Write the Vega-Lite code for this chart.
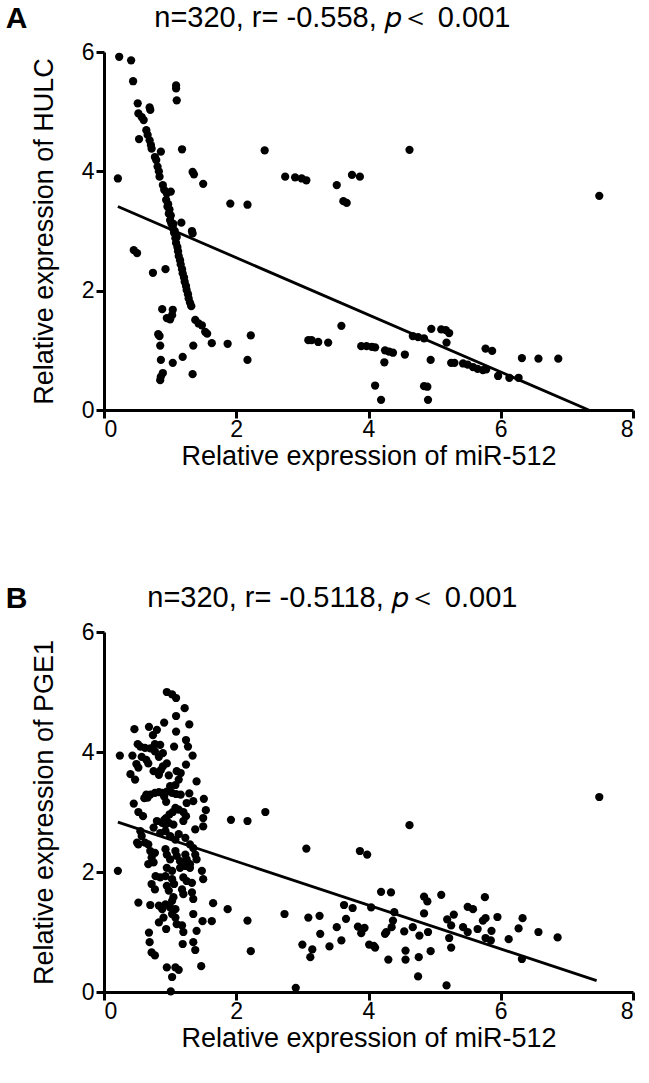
{
"$schema": "https://vega.github.io/schema/vega-lite/v6.json",
"background": "white",
"padding": {"left": 5, "top": 4, "right": 4, "bottom": 4},
"config": {
  "font": "Liberation Sans",
  "view": {"stroke": null},
  "axis": {"domainColor": "black", "domainWidth": 3, "tickColor": "black", "tickWidth": 3, "tickSize": 8, "labelFontSize": 23, "labelColor": "black", "titleFontSize": 27, "titleFontWeight": "normal", "titleColor": "black", "grid": false, "labelPadding": 2, "titlePadding": 6},
  "axisX": {"labelPadding": 0, "titlePadding": 2},
  "axisY": {"titlePadding": 23},
  "title": {"fontSize": 29, "fontWeight": "normal", "color": "black"},
  "concat": {"spacing": 115}
},
"datasets": {
  "hulc": [
    {"mir512":0.23,"expr":5.92},{"mir512":0.41,"expr":5.86},{"mir512":0.44,"expr":5.51},{"mir512":0.51,"expr":5.14},{"mir512":0.52,"expr":4.97},{"mir512":0.57,"expr":4.91},{"mir512":0.60,"expr":4.86},{"mir512":0.69,"expr":5.07},{"mir512":0.70,"expr":5.03},{"mir512":0.53,"expr":4.54},{"mir512":0.64,"expr":4.69},{"mir512":0.66,"expr":4.61},{"mir512":0.69,"expr":4.52},{"mir512":0.71,"expr":4.44},{"mir512":0.72,"expr":4.38},{"mir512":0.77,"expr":4.24},{"mir512":0.79,"expr":4.19},{"mir512":0.81,"expr":4.08},{"mir512":0.83,"expr":4.00},{"mir512":0.84,"expr":3.91},{"mir512":0.86,"expr":4.33},{"mir512":0.89,"expr":3.77},{"mir512":0.91,"expr":3.69},{"mir512":0.95,"expr":3.63},{"mir512":1.01,"expr":3.66},{"mir512":0.94,"expr":3.52},{"mir512":0.96,"expr":3.41},{"mir512":0.98,"expr":3.29},{"mir512":1.00,"expr":3.18},{"mir512":1.09,"expr":5.44},{"mir512":1.09,"expr":5.39},{"mir512":1.10,"expr":5.19},{"mir512":1.18,"expr":4.37},{"mir512":0.21,"expr":3.88},{"mir512":1.34,"expr":3.99},{"mir512":1.36,"expr":3.95},{"mir512":1.50,"expr":3.79},{"mir512":1.91,"expr":3.46},{"mir512":2.17,"expr":3.44},{"mir512":2.43,"expr":4.35},{"mir512":2.74,"expr":3.91},{"mir512":2.89,"expr":3.90},{"mir512":2.99,"expr":3.88},{"mir512":3.06,"expr":3.85},{"mir512":3.52,"expr":3.77},{"mir512":3.62,"expr":3.50},{"mir512":3.67,"expr":3.47},{"mir512":3.75,"expr":3.94},{"mir512":3.87,"expr":3.91},{"mir512":4.62,"expr":4.36},{"mir512":7.49,"expr":3.59},
    {"mir512":0.97,"expr":3.45},{"mir512":0.99,"expr":3.36},{"mir512":1.01,"expr":3.26},{"mir512":1.02,"expr":3.12},{"mir512":1.04,"expr":3.05},{"mir512":1.06,"expr":2.97},{"mir512":1.08,"expr":2.88},{"mir512":1.09,"expr":2.80},{"mir512":1.11,"expr":2.73},{"mir512":1.12,"expr":2.66},{"mir512":1.13,"expr":2.58},{"mir512":1.15,"expr":2.51},{"mir512":1.16,"expr":2.44},{"mir512":1.18,"expr":2.36},{"mir512":1.19,"expr":2.29},{"mir512":1.21,"expr":2.22},{"mir512":1.22,"expr":2.15},{"mir512":1.24,"expr":2.08},{"mir512":1.25,"expr":2.01},{"mir512":1.27,"expr":1.94},{"mir512":1.28,"expr":1.87},{"mir512":1.30,"expr":1.80},{"mir512":1.32,"expr":1.74},{"mir512":1.05,"expr":3.12},{"mir512":1.07,"expr":3.00},{"mir512":1.10,"expr":2.90},
    {"mir512":1.17,"expr":3.14},{"mir512":1.33,"expr":3.00},{"mir512":1.34,"expr":2.96},{"mir512":0.45,"expr":2.68},{"mir512":0.50,"expr":2.63},{"mir512":0.74,"expr":2.30},{"mir512":0.93,"expr":2.36},{"mir512":0.88,"expr":1.69},{"mir512":1.04,"expr":1.68},{"mir512":1.03,"expr":1.59},{"mir512":0.95,"expr":1.54},{"mir512":1.00,"expr":1.52},{"mir512":1.38,"expr":1.51},{"mir512":1.43,"expr":1.45},{"mir512":1.48,"expr":1.42},{"mir512":1.53,"expr":1.31},{"mir512":1.56,"expr":1.28},{"mir512":0.82,"expr":1.27},{"mir512":0.84,"expr":1.24},{"mir512":1.63,"expr":1.12},{"mir512":1.87,"expr":1.11},{"mir512":2.22,"expr":1.25},{"mir512":1.35,"expr":1.08},{"mir512":0.85,"expr":1.08},{"mir512":0.86,"expr":0.84},{"mir512":1.04,"expr":0.79},{"mir512":1.19,"expr":0.89},{"mir512":1.34,"expr":0.60},{"mir512":0.89,"expr":0.62},{"mir512":0.86,"expr":0.56},{"mir512":0.85,"expr":0.50},{"mir512":2.17,"expr":0.84},{"mir512":3.09,"expr":1.17},{"mir512":3.14,"expr":1.17},{"mir512":3.24,"expr":1.14},{"mir512":3.39,"expr":1.13},{"mir512":3.59,"expr":1.41},{"mir512":3.89,"expr":1.07},{"mir512":3.97,"expr":1.07},{"mir512":4.05,"expr":1.06},{"mir512":4.10,"expr":1.05},{"mir512":4.25,"expr":1.00},{"mir512":4.31,"expr":0.98},{"mir512":4.37,"expr":0.96},{"mir512":4.24,"expr":0.80},{"mir512":4.10,"expr":0.41},{"mir512":4.19,"expr":0.17},{"mir512":4.55,"expr":0.93},{"mir512":4.67,"expr":1.24},{"mir512":4.75,"expr":1.22},{"mir512":4.84,"expr":1.20},{"mir512":4.95,"expr":1.36},{"mir512":5.10,"expr":1.35},{"mir512":5.17,"expr":1.34},{"mir512":5.22,"expr":1.29},{"mir512":5.18,"expr":1.13},{"mir512":4.94,"expr":0.84},{"mir512":4.84,"expr":0.40},{"mir512":4.89,"expr":0.39},{"mir512":4.90,"expr":0.17},{"mir512":5.25,"expr":0.79},{"mir512":5.30,"expr":0.79},{"mir512":5.43,"expr":0.78},{"mir512":5.50,"expr":0.76},{"mir512":5.58,"expr":0.72},{"mir512":5.65,"expr":0.69},{"mir512":5.73,"expr":0.67},{"mir512":5.78,"expr":0.68},{"mir512":5.77,"expr":1.03},{"mir512":5.87,"expr":0.99},{"mir512":5.96,"expr":0.57},{"mir512":6.13,"expr":0.54},{"mir512":6.27,"expr":0.54},{"mir512":6.32,"expr":0.87},{"mir512":6.57,"expr":0.86},{"mir512":6.87,"expr":0.86}
  ],
  "pge1": [
    {"mir512":0.95,"expr":5.00},{"mir512":1.03,"expr":4.96},{"mir512":1.09,"expr":4.90},{"mir512":1.22,"expr":4.73},{"mir512":1.09,"expr":4.60},{"mir512":0.91,"expr":4.49},{"mir512":1.29,"expr":4.46},{"mir512":0.46,"expr":4.38},{"mir512":0.68,"expr":4.42},{"mir512":0.74,"expr":4.28},{"mir512":0.80,"expr":4.37},{"mir512":1.09,"expr":4.34},{"mir512":0.51,"expr":4.13},{"mir512":0.55,"expr":4.09},{"mir512":0.62,"expr":4.07},{"mir512":0.70,"expr":4.06},{"mir512":0.77,"expr":4.13},{"mir512":0.85,"expr":4.12},{"mir512":1.06,"expr":4.09},{"mir512":1.24,"expr":4.20},{"mir512":1.27,"expr":4.09},{"mir512":0.24,"expr":3.94},{"mir512":0.43,"expr":3.94},{"mir512":0.57,"expr":3.92},{"mir512":0.64,"expr":3.87},{"mir512":0.67,"expr":3.81},{"mir512":0.77,"expr":4.01},{"mir512":0.83,"expr":3.92},{"mir512":0.89,"expr":3.98},{"mir512":1.34,"expr":3.94},{"mir512":0.49,"expr":3.80},{"mir512":0.52,"expr":3.74},{"mir512":1.24,"expr":3.79},{"mir512":0.95,"expr":3.81},{"mir512":0.89,"expr":3.76},{"mir512":0.86,"expr":3.70},{"mir512":0.75,"expr":3.68},{"mir512":0.40,"expr":3.63},{"mir512":0.47,"expr":3.54},{"mir512":0.83,"expr":3.62},{"mir512":0.98,"expr":3.61},{"mir512":1.10,"expr":3.68},{"mir512":1.16,"expr":3.65},{"mir512":1.13,"expr":3.54},{"mir512":1.08,"expr":3.45},{"mir512":1.00,"expr":3.43},{"mir512":1.40,"expr":3.51},{"mir512":0.95,"expr":3.34},{"mir512":1.03,"expr":3.32},{"mir512":1.09,"expr":3.30},{"mir512":1.16,"expr":3.29},{"mir512":0.64,"expr":3.29},{"mir512":0.70,"expr":3.29},{"mir512":0.77,"expr":3.32},{"mir512":0.83,"expr":3.33},{"mir512":0.88,"expr":3.32},{"mir512":0.91,"expr":3.26},{"mir512":0.66,"expr":3.24},{"mir512":0.61,"expr":3.23},{"mir512":1.29,"expr":3.31},{"mir512":1.35,"expr":3.18},{"mir512":1.25,"expr":3.15},{"mir512":1.51,"expr":3.22},{"mir512":0.45,"expr":3.14},{"mir512":0.94,"expr":3.17},{"mir512":1.08,"expr":3.07},{"mir512":1.13,"expr":3.04},{"mir512":1.04,"expr":3.00},{"mir512":0.99,"expr":2.96},{"mir512":0.94,"expr":2.90},{"mir512":0.52,"expr":3.00},{"mir512":0.59,"expr":2.93},{"mir512":1.20,"expr":3.00},{"mir512":1.24,"expr":2.93},{"mir512":1.54,"expr":3.03},{"mir512":1.50,"expr":2.90},{"mir512":0.80,"expr":2.85},{"mir512":0.88,"expr":2.82},{"mir512":0.93,"expr":2.79},{"mir512":1.92,"expr":2.87},{"mir512":2.17,"expr":2.85},{"mir512":2.44,"expr":3.00},
    {"mir512":0.91,"expr":2.87},{"mir512":0.98,"expr":2.82},{"mir512":1.05,"expr":2.79},{"mir512":1.20,"expr":2.85},{"mir512":1.50,"expr":2.76},{"mir512":1.38,"expr":2.71},{"mir512":0.55,"expr":2.68},{"mir512":0.57,"expr":2.60},{"mir512":0.75,"expr":2.74},{"mir512":0.85,"expr":2.65},{"mir512":0.93,"expr":2.68},{"mir512":1.00,"expr":2.60},{"mir512":1.08,"expr":2.54},{"mir512":1.13,"expr":2.63},{"mir512":1.23,"expr":2.57},{"mir512":1.30,"expr":2.46},{"mir512":1.35,"expr":2.40},{"mir512":0.50,"expr":2.49},{"mir512":0.52,"expr":2.46},{"mir512":0.62,"expr":2.49},{"mir512":0.67,"expr":2.46},{"mir512":0.70,"expr":2.35},{"mir512":0.77,"expr":2.32},{"mir512":0.72,"expr":2.24},{"mir512":0.93,"expr":2.38},{"mir512":0.95,"expr":2.29},{"mir512":1.00,"expr":2.21},{"mir512":1.08,"expr":2.35},{"mir512":1.10,"expr":2.27},{"mir512":1.15,"expr":2.18},{"mir512":1.23,"expr":2.29},{"mir512":1.25,"expr":2.21},{"mir512":1.30,"expr":2.13},{"mir512":1.38,"expr":2.29},{"mir512":1.40,"expr":2.21},{"mir512":0.67,"expr":2.13},{"mir512":0.75,"expr":2.16},{"mir512":0.95,"expr":2.07},{"mir512":1.03,"expr":2.02},{"mir512":1.15,"expr":2.07},{"mir512":1.23,"expr":2.10},{"mir512":1.30,"expr":2.07},{"mir512":0.21,"expr":2.02},{"mir512":1.48,"expr":2.02},{"mir512":0.78,"expr":1.93},{"mir512":0.85,"expr":1.91},{"mir512":0.93,"expr":1.93},{"mir512":1.03,"expr":1.88},{"mir512":1.06,"expr":1.80},{"mir512":1.20,"expr":1.91},{"mir512":1.25,"expr":1.85},{"mir512":1.33,"expr":1.82},{"mir512":1.50,"expr":1.88},{"mir512":0.72,"expr":1.80},{"mir512":0.77,"expr":1.71},{"mir512":0.95,"expr":1.77},{"mir512":0.98,"expr":1.69},{"mir512":1.18,"expr":1.71},{"mir512":1.20,"expr":1.63},{"mir512":1.33,"expr":1.66},{"mir512":1.35,"expr":1.55},{"mir512":1.05,"expr":1.58},{"mir512":1.03,"expr":1.52},{"mir512":0.52,"expr":1.49},{"mir512":0.70,"expr":1.45},{"mir512":0.83,"expr":1.44},{"mir512":0.88,"expr":1.38},{"mir512":0.93,"expr":1.46},{"mir512":1.00,"expr":1.41},{"mir512":1.08,"expr":1.38},{"mir512":1.03,"expr":1.30},{"mir512":1.65,"expr":1.48},{"mir512":1.87,"expr":1.38},{"mir512":2.73,"expr":1.30},{"mir512":3.06,"expr":2.39},{"mir512":3.09,"expr":1.24},{"mir512":3.26,"expr":1.27},{"mir512":1.35,"expr":1.30},{"mir512":1.49,"expr":1.18},{"mir512":1.63,"expr":1.18},{"mir512":2.17,"expr":1.19},{"mir512":0.83,"expr":1.16},{"mir512":0.90,"expr":1.24},{"mir512":1.08,"expr":1.24},{"mir512":1.10,"expr":1.13},{"mir512":1.18,"expr":1.11},{"mir512":0.94,"expr":1.05},{"mir512":1.20,"expr":1.00},{"mir512":1.40,"expr":1.02},{"mir512":0.68,"expr":0.99},{"mir512":3.27,"expr":0.97},{"mir512":0.69,"expr":0.83},{"mir512":0.72,"expr":0.66},{"mir512":0.77,"expr":0.61},{"mir512":1.19,"expr":0.80},{"mir512":1.35,"expr":0.83},{"mir512":1.38,"expr":0.70},{"mir512":3.00,"expr":0.79},{"mir512":3.15,"expr":0.71},{"mir512":3.12,"expr":0.58},{"mir512":2.22,"expr":0.68},{"mir512":1.47,"expr":0.43},{"mir512":0.95,"expr":0.41},{"mir512":1.08,"expr":0.41},{"mir512":1.13,"expr":0.37},{"mir512":1.03,"expr":0.25},{"mir512":1.01,"expr":0.01},{"mir512":2.90,"expr":0.07},
    {"mir512":7.49,"expr":3.25},{"mir512":4.62,"expr":2.78},{"mir512":3.87,"expr":2.35},{"mir512":3.98,"expr":2.29},{"mir512":4.19,"expr":1.67},{"mir512":4.34,"expr":1.66},{"mir512":3.63,"expr":1.45},{"mir512":3.76,"expr":1.40},{"mir512":4.04,"expr":1.41},{"mir512":3.66,"expr":1.22},{"mir512":3.52,"expr":1.08},{"mir512":3.59,"expr":0.86},{"mir512":3.41,"expr":0.76},{"mir512":3.84,"expr":1.09},{"mir512":3.91,"expr":1.05},{"mir512":3.94,"expr":1.07},{"mir512":3.89,"expr":0.98},{"mir512":4.01,"expr":0.79},{"mir512":4.08,"expr":0.77},{"mir512":4.10,"expr":0.74},{"mir512":4.39,"expr":1.33},{"mir512":4.37,"expr":1.19},{"mir512":4.35,"expr":1.08},{"mir512":4.25,"expr":0.97},{"mir512":4.27,"expr":1.00},{"mir512":4.30,"expr":0.54},{"mir512":4.54,"expr":1.01},{"mir512":4.56,"expr":0.69},{"mir512":4.56,"expr":0.54},{"mir512":4.67,"expr":1.08},{"mir512":4.77,"expr":0.94},{"mir512":4.76,"expr":0.58},{"mir512":4.75,"expr":0.26},{"mir512":4.84,"expr":1.59},{"mir512":4.89,"expr":1.51},{"mir512":4.84,"expr":1.31},{"mir512":4.90,"expr":1.00},{"mir512":4.94,"expr":0.68},{"mir512":5.10,"expr":1.62},{"mir512":5.18,"expr":0.11},{"mir512":5.19,"expr":1.21},{"mir512":5.25,"expr":1.11},{"mir512":5.29,"expr":1.29},{"mir512":5.22,"expr":0.90},{"mir512":5.25,"expr":0.74},{"mir512":5.43,"expr":1.08},{"mir512":5.50,"expr":1.00},{"mir512":5.50,"expr":1.42},{"mir512":5.58,"expr":1.38},{"mir512":5.65,"expr":1.05},{"mir512":5.73,"expr":1.19},{"mir512":5.77,"expr":1.23},{"mir512":5.76,"expr":1.58},{"mir512":5.77,"expr":0.90},{"mir512":5.85,"expr":0.86},{"mir512":5.86,"expr":1.02},{"mir512":5.95,"expr":1.25},{"mir512":6.12,"expr":0.88},{"mir512":6.27,"expr":1.06},{"mir512":6.33,"expr":1.23},{"mir512":6.32,"expr":0.55},{"mir512":6.57,"expr":1.00},{"mir512":6.86,"expr":0.91}
  ],
  "lineA": [{"mir512":0.21,"expr":3.41},{"mir512":7.33,"expr":0.0}],
  "lineB": [{"mir512":0.21,"expr":2.83},{"mir512":7.45,"expr":0.19}]
},
"vconcat": [
  {
    "title": {"text": "A", "orient": "left", "anchor": "end", "angle": 0, "align": "right", "baseline": "top", "fontSize": 30, "fontWeight": "bold", "offset": -19},
    "vconcat": [
      {
        "width": 529, "height": 358,
        "title": {"text": "n=320, r= -0.558,  𝑝＜ 0.001", "offset": 8, "frame": "bounds"},
        "encoding": {
          "x": {"field": "mir512", "type": "quantitative", "scale": {"domain": [0, 8], "nice": false}, "axis": {"values": [0, 2, 4, 6, 8], "title": "Relative expression of miR-512"}},
          "y": {"field": "expr", "type": "quantitative", "scale": {"domain": [0, 6], "nice": false}, "axis": {"values": [0, 2, 4, 6], "title": "Relative expression of HULC"}}
        },
        "layer": [
          {"data": {"name": "hulc"}, "mark": {"type": "circle", "size": 68, "color": "black", "opacity": 1}},
          {"data": {"name": "lineA"}, "mark": {"type": "line", "color": "black", "strokeWidth": 2.8}, "encoding": {}}
        ]
      }
    ]
  },
  {
    "title": {"text": "B", "orient": "left", "anchor": "end", "angle": 0, "align": "right", "baseline": "top", "fontSize": 30, "fontWeight": "bold", "offset": -19},
    "vconcat": [
      {
        "width": 529, "height": 360,
        "title": {"text": "n=320, r= -0.5118,  𝑝＜ 0.001", "offset": 8, "frame": "bounds"},
        "encoding": {
          "x": {"field": "mir512", "type": "quantitative", "scale": {"domain": [0, 8], "nice": false}, "axis": {"values": [0, 2, 4, 6, 8], "title": "Relative expression of miR-512"}},
          "y": {"field": "expr", "type": "quantitative", "scale": {"domain": [0, 6], "nice": false}, "axis": {"values": [0, 2, 4, 6], "title": "Relative expression of PGE1"}}
        },
        "layer": [
          {"data": {"name": "pge1"}, "mark": {"type": "circle", "size": 68, "color": "black", "opacity": 1}},
          {"data": {"name": "lineB"}, "mark": {"type": "line", "color": "black", "strokeWidth": 2.8}, "encoding": {}}
        ]
      }
    ]
  }
]
}
